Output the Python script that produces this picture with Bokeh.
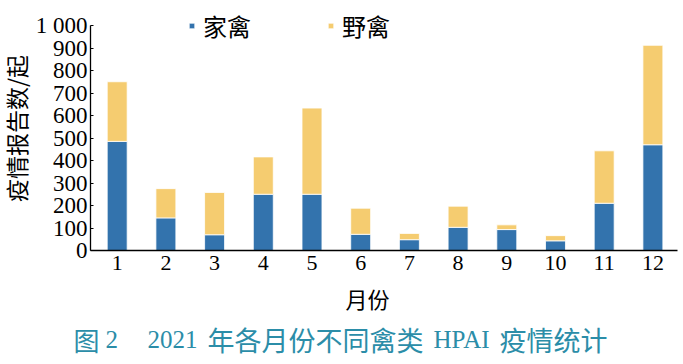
from bokeh.plotting import figure
from bokeh.models import Range1d, Legend, LegendItem, FixedTicker
from bokeh.layouts import column, row
from bokeh.core.properties import value
from bokeh.embed import file_html
from bokeh.resources import INLINE
import math

months = [1, 2, 3, 4, 5, 6, 7, 8, 9, 10, 11, 12]
month_labels = ["1", "2", "3", "4", "5", "6", "7", "8", "9", "10", "11", "12"]
domestic = [485, 145, 70, 250, 250, 72, 48, 103, 93, 43, 210, 470]
wild = [265, 130, 188, 166, 383, 116, 28, 94, 21, 23, 233, 442]
y_ticks = [0, 100, 200, 300, 400, 500, 600, 700, 800, 900, 1000]
series_names = ["家禽", "野禽"]
colors = ["#3373ad", "#f5cc70"]

def plain(fig):
    fig.outline_line_color = None
    fig.xgrid.visible = False
    fig.ygrid.visible = False
    fig.background_fill_color = "white"
    fig.border_fill_color = "white"
    try:
        fig.frame_align = False
    except Exception:
        pass

LW = 32                      # width of the strip holding the y title
XS = 0.452
W, H = 648, 280
BL, BR, BT, BB = 58, 3, 4, 30
fw = W - BL - BR
fh = H - BT - BB
XE = XS + fw / 48.7
YE = fh / 0.225

p = figure(width=W, height=H, output_backend="svg", toolbar_location=None,
           x_range=Range1d(XS, XE), y_range=Range1d(0, YE),
           min_border_left=BL, min_border_right=BR, min_border_top=BT, min_border_bottom=BB)
plain(p)

data = dict(month=months, domestic=domestic, wild=wild)
rs = p.vbar_stack(["domestic", "wild"], x="month", width=0.41, source=data,
                  color=colors, line_color="white", line_width=0.8)

# x axis
p.xaxis.ticker = FixedTicker(ticks=months)
p.xaxis.major_label_overrides = {m: l for m, l in zip(months, month_labels)}
p.xaxis.major_tick_in = 0
p.xaxis.major_tick_out = 0
p.xaxis.minor_tick_in = 0
p.xaxis.minor_tick_out = 0
p.xaxis.major_label_text_font = "Liberation Serif"
p.xaxis.major_label_text_font_size = "22px"
p.xaxis.major_label_text_color = "black"
p.xaxis.major_label_standoff = 5
p.xaxis.axis_line_color = "black"
p.xaxis.axis_line_width = 1.3

# y axis
p.yaxis.ticker = FixedTicker(ticks=y_ticks)
p.yaxis.bounds = (0, 1000)
p.yaxis.major_label_overrides = {1000: "1 000"}
p.yaxis.major_tick_in = 3
p.yaxis.major_tick_out = 0
p.yaxis.minor_tick_in = 0
p.yaxis.minor_tick_out = 0
p.yaxis.major_label_text_font = "Liberation Serif"
p.yaxis.major_label_text_font_size = "23px"
p.yaxis.major_label_text_color = "black"
p.yaxis.major_label_standoff = 3
p.yaxis.axis_line_color = "black"
p.yaxis.axis_line_width = 1.3

# legend
legend = Legend(items=[LegendItem(label=series_names[0], renderers=[rs[0]]),
                       LegendItem(label=series_names[1], renderers=[rs[1]])],
                orientation="horizontal", location=(98, 207),
                glyph_width=7, glyph_height=7, label_standoff=8, spacing=76,
                padding=0, margin=0, border_line_color=None,
                background_fill_alpha=0,
                label_text_font="Noto Sans CJK SC", label_text_font_size="24px",
                label_text_color="black")
p.add_layout(legend)

# left strip: y-axis title
lft = figure(width=LW, height=H, output_backend="svg", toolbar_location=None,
             x_range=Range1d(0, LW), y_range=Range1d(H, 0),
             x_axis_location=None, y_axis_location=None,
             min_border_left=0, min_border_right=0, min_border_top=0, min_border_bottom=0)
plain(lft)
lft.text(x=[15], y=[128], text=["疫情报告数/起"], angle=math.pi / 2,
         text_align="center", text_baseline="middle",
         text_font=value("Noto Sans CJK SC"), text_font_size="23px", text_color="black")

# bottom strip: x-axis title and figure caption
BW = LW + W
q = figure(width=BW, height=80, output_backend="svg", toolbar_location=None,
           x_range=Range1d(0, BW), y_range=Range1d(80, 0),
           x_axis_location=None, y_axis_location=None,
           min_border_left=0, min_border_right=0, min_border_top=0, min_border_bottom=0)
plain(q)

q.text(x=[367], y=[17], text=["月份"], text_align="center", text_baseline="middle",
       text_font=value("Noto Sans CJK SC"), text_font_size="22px", text_color="black")

cap_color = "#2b8da8"
cap_texts = ["图", "2", "2021", "年各月份不同禽类", "HPAI", "疫情统计"]
cap_x = [73, 105, 147, 207, 433, 499]
cap_fonts = ["Noto Sans CJK SC", "Liberation Serif", "Liberation Serif",
             "Noto Sans CJK SC", "Liberation Serif", "Noto Sans CJK SC"]
cap_sizes = ["26px", "25px", "25px", "27px", "25px", "27px"]
for t, xx, f, s in zip(cap_texts, cap_x, cap_fonts, cap_sizes):
    q.text(x=[xx], y=[59], text=[t], text_align="left", text_baseline="middle",
           text_font=value(f), text_font_size=s, text_color=cap_color)

layout = column(row(lft, p, spacing=0), q, spacing=0)
open("out.html", "w").write(file_html(layout, INLINE))
